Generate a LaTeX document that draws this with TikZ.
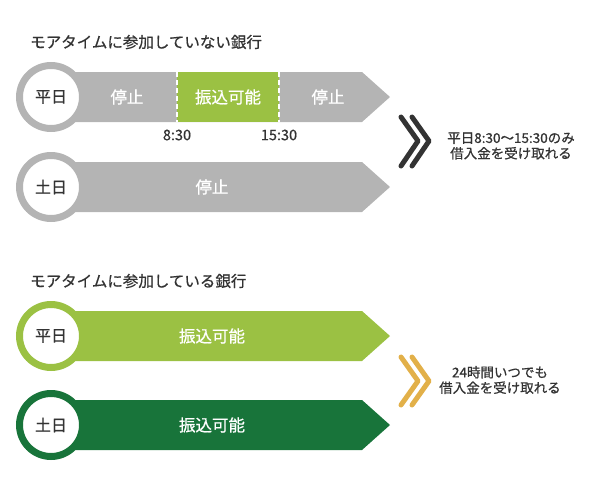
\documentclass[tikz,border=0pt]{standalone}
\usepackage{fontspec}
\setmainfont{Noto Sans CJK JP}
\newfontfamily\jpmed{Noto Sans CJK JP}[FakeBold=0.7]
\usepackage{tikz}
\usetikzlibrary{positioning}
\usepackage{xcolor}
\definecolor{barGray}{HTML}{B4B4B4}
\definecolor{barLight}{HTML}{9BC143}
\definecolor{barDark}{HTML}{18743A}
\definecolor{arrowGold}{HTML}{E2B049}
\definecolor{textDark}{HTML}{333333}

\begin{document}
\begin{tikzpicture}[x=1pt, y=-1pt,
    daycircle/.style={circle, draw=#1, line width=7pt, fill=white, minimum size=63pt, inner sep=0pt, text=textDark, font=\jpmed\fontsize{16}{18}\selectfont},
    barlabel/.style={text=white, font=\jpmed\fontsize{16.5}{18}\selectfont},
    heading/.style={anchor=west, inner sep=0pt, text=textDark, font=\jpmed\fontsize{15.5}{18}\selectfont},
    timelabel/.style={text=textDark, font=\jpmed\fontsize{14.5}{16}\selectfont},
    note/.style={align=center, text=textDark, font=\jpmed\fontsize{13.5}{15.5}\selectfont},
    chevron/.style={draw=#1, line width=5pt, line cap=round, line join=round}]
      \useasboundingbox (0,0) rectangle (600,488);

      % not participating
      \node[heading] (h1) at (30,42) {モアタイムに参加していない銀行};
      \fill[barGray] (51,72) -- (362,72) -- (390,97) -- (362,122) -- (51,122) -- cycle;
      \fill[barLight] (177,72) rectangle (279,122);
      \draw[white, line width=2pt, dash pattern=on 5pt off 3pt] (177,72) -- (177,122);
      \draw[white, line width=2pt, dash pattern=on 5pt off 3pt] (279,72) -- (279,122);
      \node[daycircle=barGray] (wd1) at (51,97) {平日};
      \node[barlabel] (s1) at (127,97) {停止};
      \node[barlabel] (t1) at (228,97) {振込可能};
      \node[barlabel] (s2) at (328,97) {停止};
      \node[timelabel] (a1) at (177,135) {8:30};
      \node[timelabel] (a2) at (279,135) {15:30};

      \fill[barGray] (51,162) -- (362,162) -- (390,187) -- (362,212) -- (51,212) -- cycle;
      \node[daycircle=barGray] (we1) at (51,187) {土日};
      \node[barlabel] (s3) at (212,187) {停止};

      \draw[chevron=textDark] (401,117) -- (418,141) -- (401,166);
      \draw[chevron=textDark] (412,117) -- (429,141) -- (412,166);
      \node[note] (n1) at (511,146) {平日8:30〜15:30のみ\\借入金を受け取れる};

      % participating
      \node[heading] (h2) at (30,281) {モアタイムに参加している銀行};
      \fill[barLight] (51,311) -- (362,311) -- (390,336) -- (362,361) -- (51,361) -- cycle;
      \node[daycircle=barLight] (wd2) at (51,336) {平日};
      \node[barlabel] (t2) at (212,336) {振込可能};

      \fill[barDark] (51,400) -- (362,400) -- (390,425) -- (362,450) -- (51,450) -- cycle;
      \node[daycircle=barDark] (we2) at (51,425) {土日};
      \node[barlabel] (t3) at (212,425) {振込可能};

      \draw[chevron=arrowGold] (401,357) -- (418,381) -- (401,405);
      \draw[chevron=arrowGold] (412,357) -- (429,381) -- (412,405);
      \node[note] (n2) at (500,380) {24時間いつでも\\借入金を受け取れる};
    \end{tikzpicture}
\end{document}
